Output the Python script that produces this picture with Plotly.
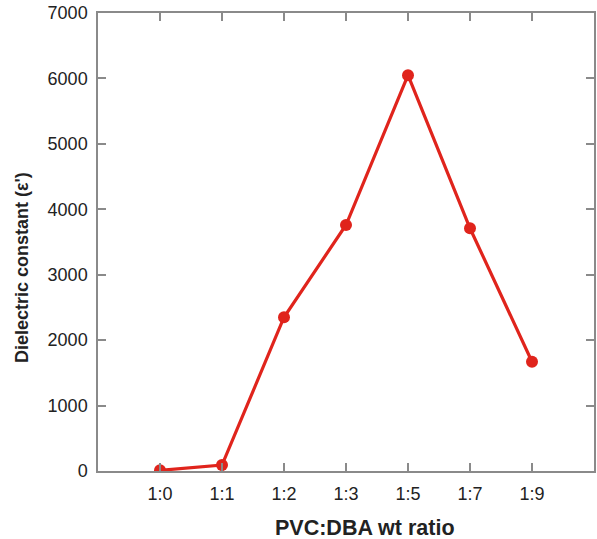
import plotly.graph_objects as go

categories = ["1:0", "1:1", "1:2", "1:3", "1:5", "1:7", "1:9"]
dielectric = [10, 90, 2350, 3760, 6050, 3710, 1670]
y_ticks = [0, 1000, 2000, 3000, 4000, 5000, 6000, 7000]

x_idx = list(range(len(categories)))

fig = go.Figure()
fig.add_trace(go.Scatter(
    x=x_idx, y=dielectric, mode="lines+markers",
    line=dict(color="#e0241c", width=3.2),
    marker=dict(color="#e0241c", size=12),
    showlegend=False,
))

axis_common = dict(
    showline=True, linecolor="#8a8a8a", linewidth=1.5, mirror="ticks",
    ticks="inside", ticklen=8, tickwidth=1.5, tickcolor="#8a8a8a",
    showgrid=False, zeroline=False, automargin=False,
    tickfont=dict(family="Liberation Sans, Arial", size=18, color="#222"),
)

fig.update_layout(
    width=597, height=539, autosize=False,
    margin=dict(l=98, r=3, t=13, b=68, autoexpand=False),
    paper_bgcolor="white", plot_bgcolor="white",
    xaxis=dict(
        range=[-1, 7], tickmode="array", tickvals=x_idx, ticktext=categories,
        ticklabelstandoff=6,
        **axis_common,
    ),
    yaxis=dict(
        range=[0, 7000], tickmode="array", tickvals=y_ticks,
        ticktext=[str(v) for v in y_ticks], ticklabelstandoff=5,
        **axis_common,
    ),
    annotations=[
        dict(text="<b>PVC:DBA wt ratio</b>", xref="paper", yref="paper",
             x=(365 - 98) / 496, y=-(528 - 471) / 458, xanchor="center", yanchor="middle",
             showarrow=False,
             font=dict(family="Liberation Sans, Arial", size=21.5, color="#222")),
        dict(text="<b>Dielectric constant (ε')</b>", xref="paper", yref="paper",
             x=-(98 - 22) / 496, y=(471 - 268) / 458, xanchor="center", yanchor="middle",
             textangle=-90, showarrow=False,
             font=dict(family="Liberation Sans, Arial", size=18, color="#222")),
    ],
)

fig.write_html("out.html", config={"displayModeBar": False},
               post_script="document.body.style.margin='0';document.body.style.overflow='hidden';")
